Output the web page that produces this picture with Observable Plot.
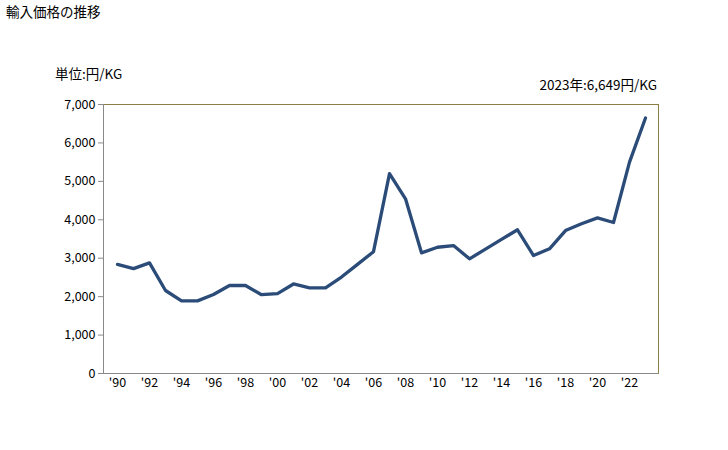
<!DOCTYPE html>
<html>
<head>
<meta charset="utf-8">
<script src="https://cdn.jsdelivr.net/npm/d3@7"></script>
<script src="https://cdn.jsdelivr.net/npm/@observablehq/plot@0.6"></script>
<style>
  html, body { margin: 0; padding: 0; background: #fff; }
  #chart { position: relative; width: 728px; height: 450px; }
  svg { font-family: "Noto Sans CJK JP", "DejaVu Sans", sans-serif; }
</style>
</head>
<body>
<div id="chart"></div>
<script>
const title = "輸入価格の推移";
const unitLabel = "単位:円/KG";
const noteLabel = "2023年:6,649円/KG";

const years = [1990,1991,1992,1993,1994,1995,1996,1997,1998,1999,2000,2001,2002,2003,2004,2005,2006,2007,2008,2009,2010,2011,2012,2013,2014,2015,2016,2017,2018,2019,2020,2021,2022,2023];
const prices = [2840,2730,2880,2160,1890,1890,2055,2290,2290,2050,2080,2330,2230,2230,2510,2840,3170,5200,4545,3140,3285,3330,2985,3235,3490,3740,3070,3245,3720,3895,4050,3930,5500,6649];
const yTicks = [0,1000,2000,3000,4000,5000,6000,7000];
const xTicks = years.filter(y => y % 2 === 0);

const data = years.map((y, i) => ({year: y, price: prices[i]}));

const olive = "#8c7f45";
const gray = "#8a8a8a";
const lineColor = "#2b4b78";

const chart = Plot.plot({
  width: 728,
  height: 450,
  marginLeft: 103,
  marginRight: 70,
  marginTop: 104,
  marginBottom: 77,
  style: {fontSize: "12.5px", fontFamily: "'Noto Sans CJK JP', sans-serif", color: "#000", background: "#fff"},
  x: {type: "point", domain: years, padding: 0.5, label: null},
  y: {domain: [0, 7000], label: null},
  marks: [
    Plot.frame({anchor: "top", stroke: olive}),
    Plot.frame({anchor: "right", stroke: olive}),
    Plot.frame({anchor: "left", stroke: gray}),
    Plot.frame({anchor: "bottom", stroke: gray}),
    Plot.axisY({ticks: yTicks, tickSize: 5, tickPadding: 3, stroke: gray, tickFormat: d => d3.format(",")(d), fill: "#000"}),
    Plot.axisX({ticks: xTicks, tickSize: 0, tickPadding: 5, tickFormat: d => "'" + String(d).slice(2), fill: "#000"}),
    Plot.line(data, {x: "year", y: "price", stroke: lineColor, strokeWidth: 3.3, strokeLinejoin: "round"})
  ]
});

document.getElementById("chart").appendChild(chart);

const svg = d3.select(chart);
svg.append("text").attr("x", 6).attr("y", 17).attr("font-size", 13.5).attr("text-anchor", "start").attr("fill", "#000").text(title);
svg.append("text").attr("x", 55).attr("y", 79).attr("font-size", 13.5).attr("text-anchor", "start").attr("fill", "#000").text(unitLabel);
svg.append("text").attr("x", 657).attr("y", 90).attr("font-size", 13.5).attr("text-anchor", "end").attr("fill", "#000").text(noteLabel);
</script>
</body>
</html>
